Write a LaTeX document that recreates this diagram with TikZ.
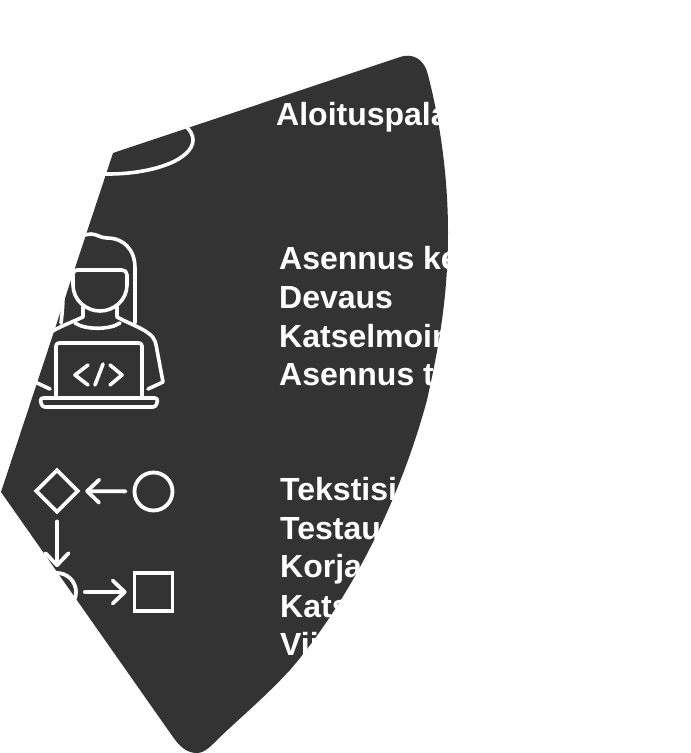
\documentclass[tikz,border=0pt]{standalone}
\usepackage{fontspec}
\setmainfont{Liberation Sans}
\usetikzlibrary{arrows.meta,shapes.geometric}
\definecolor{darkbg}{HTML}{333333}
\tikzset{
  lbl/.style={anchor=base west,inner sep=0pt,text=white,font=\fontsize{32}{38}\selectfont\bfseries},
  icon/.style={draw=white,line width=3.6pt,line join=round,line cap=round},
  flow/.style={draw=white,line width=3.8pt,inner sep=0pt,minimum size=38pt},
  flowarrow/.style={draw=white,line width=3.8pt,line cap=round,-{Straight Barb[length=12pt,width=23pt,round]}}
}
\begin{document}
\begin{tikzpicture}[x=1pt,y=-1pt]
\useasboundingbox (0,0) rectangle (691,753);
\fill[darkbg] (1,492)--(113,153)--(400,57) .. controls (412,53) and (424,58) .. (428,75)
  .. controls (441,125) and (448,180) .. (448,232)
  .. controls (448,300) and (438,350) .. (427,400)
  .. controls (400,500) and (350,600) .. (290,670)
  .. controls (265,697) and (240,718) .. (220,737)
  .. controls (212,745) and (205,753) .. (197,753)
  .. controls (187,753) and (180,747) .. (173,737)--cycle;
% top icon
\draw[icon] (108,140) ellipse (85 and 34);
% person
\draw[icon] (61,323) .. controls (64,300) and (63,285) .. (63,268) .. controls (63,248) and (78,234) .. (91,234)
  .. controls (97,234) and (100,238) .. (107,238) .. controls (124,238) and (135,250) .. (135,268)--(135,323);
\draw[icon] (73,275) .. controls (73,272) and (74,270) .. (77,270)--(122,270) .. controls (125,270) and (127,272) .. (127,275)
  --(127,285) .. controls (127,300) and (114,311) .. (100,311) .. controls (86,311) and (73,300) .. (73,285)--cycle;
\draw[icon] (83,306)--(83,317) .. controls (70,323) and (56,328) .. (50,333) .. controls (42,338) and (42,345) .. (41,350)--(35,382)--(50,389);
\draw[icon] (117,306)--(117,317) .. controls (128,323) and (142,328) .. (148,333) .. controls (156,338) and (156,345) .. (157,350)--(163,382)--(148,389);
\draw[icon] (75,323) .. controls (85,330) and (110,330) .. (120,323);
\draw[icon,rounded corners=3pt] (56,397)--(56,343)--(142,343)--(142,397);
\draw[icon,rounded corners=3pt] (40,398)--(158,398)--(156,407)--(42,407)--cycle;
\draw[icon] (88,365)--(75,375)--(88,385);
\draw[icon] (103,364)--(95,385);
\draw[icon] (110,365)--(122,375)--(110,385);
% flow icon
\node[flow,diamond,minimum size=43pt] (choice) at (57,491) {};
\node[flow,circle] (start) at (153.5,491.5) {};
\node[flow,circle] (stop) at (57,592) {};
\node[flow,rectangle] (task) at (153.5,592) {};
\draw[flowarrow,shorten <=7pt,shorten >=5pt] (start)--(choice);
\draw[flowarrow,shorten <=7pt,shorten >=4pt] (choice)--(stop);
\draw[flowarrow,shorten <=7pt,shorten >=6pt] (stop)--(task);
% texts
\node[lbl] (aloitus) at (276,125.5) {Aloituspala};
\node[lbl] (asennus) at (279,269.5) {Asennus ke};
\node[lbl] (devaus) at (279,308.5) {Devaus};
\node[lbl] (katselmointi) at (279,347.5) {Katselmoin};
\node[lbl] (asennust) at (279,385.5) {Asennus t};
\node[lbl] (tekstisi) at (280,500.5) {Tekstisi};
\node[lbl] (testaus) at (280,539.5) {Testau};
\node[lbl] (korjaus) at (280,577.5) {Korja};
\node[lbl] (kats) at (280,617) {Kats};
\node[lbl] (vii) at (280,655.5) {Vii};
\end{tikzpicture}
\end{document}
